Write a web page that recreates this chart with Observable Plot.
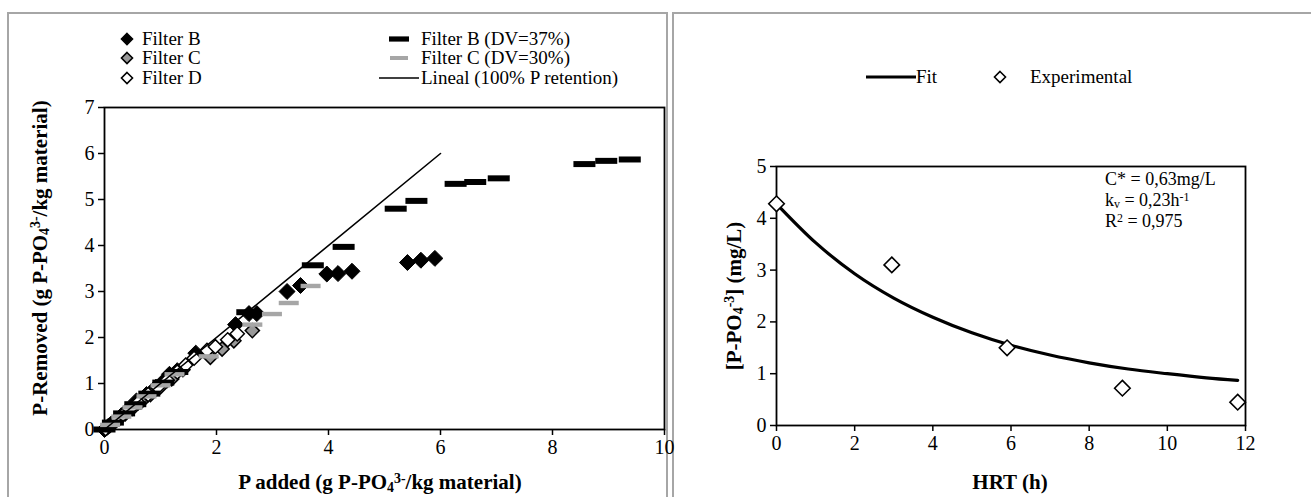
<!DOCTYPE html>
<html><head><meta charset="utf-8">
<script src="https://cdn.jsdelivr.net/npm/d3@7"></script>
<script src="https://cdn.jsdelivr.net/npm/@observablehq/plot@0.6"></script>
<style>
body{margin:0;background:#fff;font-family:"Liberation Serif",serif;}
#wrap{position:relative;width:1311px;height:497px;overflow:hidden;background:#fff;}
#wrap svg{font-family:"Liberation Serif",serif !important;font-size:20px !important;overflow:visible;}
#wrap svg text{font-family:"Liberation Serif",serif !important;}
.frame{position:absolute;border:2px solid #a6a6a6;box-sizing:border-box;}
.abs{position:absolute;white-space:nowrap;color:#000;line-height:1;font-size:19px;}
.leg{font-size:19px;}
.lab{font-size:21px;font-weight:bold;}
.ann{font-size:18px;}
sub,sup{font-size:0.66em;line-height:0;}
sub{vertical-align:-0.2em;} sup{vertical-align:0.45em;}
.plotbox{position:absolute;top:0;}
</style></head><body><div id="wrap"></div>
<script>
// ---------- Left panel data ----------
const xTicksL = [0, 2, 4, 6, 8, 10];
const yTicksL = [0, 1, 2, 3, 4, 5, 6, 7];
const filterBx = [0, 0.06, 0.12, 0.2, 0.3, 0.42, 0.57, 0.75, 0.92, 1.08, 1.16, 1.3, 1.63, 2.34, 2.58, 2.72, 3.26, 3.5, 3.97, 4.17, 4.42, 5.41, 5.65, 5.9];
const filterBy = [0, 0.06, 0.12, 0.2, 0.3, 0.43, 0.62, 0.76, 0.92, 1.08, 1.2, 1.28, 1.66, 2.28, 2.52, 2.52, 3.0, 3.13, 3.38, 3.39, 3.44, 3.63, 3.68, 3.72];
const filterCx = [0.04, 0.1, 0.18, 0.27, 0.37, 0.5, 0.65, 0.82, 1.0, 1.2, 1.4, 1.89, 2.1, 2.31, 2.64];
const filterCy = [0.03, 0.09, 0.16, 0.25, 0.34, 0.46, 0.6, 0.76, 0.93, 1.1, 1.3, 1.57, 1.75, 1.93, 2.15];
const filterDx = [0.02, 0.08, 0.15, 0.23, 0.33, 0.45, 0.6, 0.78, 0.95, 1.12, 1.3, 1.45, 1.6, 1.83, 1.98, 2.2, 2.37];
const filterDy = [0.02, 0.08, 0.14, 0.22, 0.32, 0.44, 0.58, 0.76, 0.92, 1.07, 1.25, 1.4, 1.55, 1.72, 1.8, 1.95, 2.08];
const filterBDVx = [0, 0.15, 0.35, 0.55, 0.8, 1.05, 1.3, 2.55, 3.72, 4.27, 5.2, 5.57, 6.27, 6.62, 7.04, 8.57, 8.96, 9.38];
const filterBDVy = [0, 0.15, 0.35, 0.55, 0.78, 1.02, 1.25, 2.55, 3.57, 3.97, 4.8, 4.97, 5.34, 5.38, 5.46, 5.77, 5.84, 5.87];
const filterCDVx = [0.1, 0.3, 0.5, 0.75, 1.0, 1.25, 1.86, 2.64, 2.99, 3.29, 3.68];
const filterCDVy = [0.1, 0.28, 0.48, 0.72, 0.96, 1.2, 1.59, 2.28, 2.51, 2.75, 3.12];
const linealX = [0, 6];
const linealY = [0, 6];

// ---------- Right panel data ----------
const xTicksR = [0, 2, 4, 6, 8, 10, 12];
const yTicksR = [0, 1, 2, 3, 4, 5];
const hrtExp = [0, 2.95, 5.9, 8.85, 11.8];
const concExp = [4.28, 3.1, 1.5, 0.72, 0.45];
const hrtFit = [0, 1, 2, 3, 4, 5, 6, 7, 8, 9, 10, 11, 11.8];
const concFit = [4.28, 3.53, 2.93, 2.46, 2.09, 1.79, 1.55, 1.36, 1.21, 1.09, 1.0, 0.92, 0.87];

const zip = (xs, ys) => xs.map((x, i) => ({x, y: ys[i]}));
const dashBlack = {draw(ctx) { ctx.rect(-11, -3, 22, 6); }};
const dashGray = {draw(ctx) { ctx.rect(-10, -2.2, 20, 4.4); }};
const font = {fontFamily: "Liberation Serif, serif", fontSize: "20px", color: "#000", background: "transparent", overflow: "visible"};

const wrap = document.getElementById("wrap");
function addEl(html, css, cls) {
  const d = document.createElement("div");
  d.className = cls || "abs";
  d.innerHTML = html;
  Object.assign(d.style, css);
  wrap.appendChild(d);
  return d;
}
// panel frames
addEl("", {left: "7px", top: "12px", width: "661px", height: "520px"}, "frame");
addEl("", {left: "672px", top: "12px", width: "660px", height: "520px"}, "frame");

// ---------- Left plot ----------
const left = Plot.plot({
  width: 668, height: 497,
  marginLeft: 104, marginRight: 4, marginTop: 107, marginBottom: 68,
  x: {domain: [0, 10]},
  y: {domain: [0, 7]},
  style: font,
  marks: [
    Plot.axisX({ticks: xTicksL, tickFormat: d => String(d), tickSize: 6, tickPadding: 4, label: null, strokeWidth: 1.5}),
    Plot.axisY({ticks: yTicksL, tickFormat: d => String(d), tickSize: 6, tickPadding: 4, label: null, strokeWidth: 1.5}),
    Plot.frame({stroke: "#000", strokeWidth: 1.8}),
    Plot.dot(zip(filterBx, filterBy), {x: "x", y: "y", symbol: "diamond2", r: 7.2, fill: "#000", stroke: "#000", strokeWidth: 1}),
    Plot.dot(zip(filterCx, filterCy), {x: "x", y: "y", symbol: "diamond2", r: 6.4, fill: "#999999", stroke: "#000", strokeWidth: 1.5}),
    Plot.dot(zip(filterDx, filterDy), {x: "x", y: "y", symbol: "diamond2", r: 6.4, fill: "#fff", stroke: "#000", strokeWidth: 1.5}),
    Plot.dot(zip(filterBDVx, filterBDVy), {x: "x", y: "y", symbol: dashBlack, fill: "#000", stroke: "none"}),
    Plot.dot(zip(filterCDVx, filterCDVy), {x: "x", y: "y", symbol: dashGray, fill: "#a6a6a6", stroke: "none"}),
    Plot.line(zip(linealX, linealY), {x: "x", y: "y", stroke: "#000", strokeWidth: 1.6})
  ]
});
const lb = document.createElement("div");
lb.className = "plotbox"; lb.style.left = "0px";
lb.appendChild(left); wrap.appendChild(lb);

// ---------- Right plot ----------
const right = Plot.plot({
  width: 631, height: 497,
  marginLeft: 96, marginRight: 66, marginTop: 166, marginBottom: 72,
  x: {domain: [0, 12]},
  y: {domain: [0, 5]},
  style: font,
  marks: [
    Plot.axisX({ticks: xTicksR, tickFormat: d => String(d), tickSize: 6, tickPadding: 4, label: null, strokeWidth: 1.5}),
    Plot.axisY({ticks: yTicksR, tickFormat: d => String(d), tickSize: 6, tickPadding: 4, label: null, strokeWidth: 1.5}),
    Plot.frame({stroke: "#000", strokeWidth: 1.8}),
    Plot.line(zip(hrtFit, concFit), {x: "x", y: "y", curve: "monotone-x", stroke: "#000", strokeWidth: 3.2}),
    Plot.dot(zip(hrtExp, concExp), {x: "x", y: "y", symbol: "diamond2", r: 7, fill: "#fff", stroke: "#000", strokeWidth: 1.6})
  ]
});
const rb = document.createElement("div");
rb.className = "plotbox"; rb.style.left = "680px";
rb.appendChild(right); wrap.appendChild(rb);

// ---------- Legends ----------
const diamondSvg = (fill) => `<svg width="14" height="14" style="position:absolute;left:-7px;top:-7px"><path d="M7,1.5L12.5,7L7,12.5L1.5,7Z" fill="${fill}" stroke="#000" stroke-width="1.6"/></svg>`;
const legendRows = [39, 58, 78];
const leftItems = [
  {label: "Filter B", fill: "#000"},
  {label: "Filter C", fill: "#999999"},
  {label: "Filter D", fill: "#fff"}
];
leftItems.forEach((it, i) => {
  addEl(diamondSvg(it.fill), {left: "127px", top: legendRows[i] + "px", width: "0", height: "0"});
  addEl(it.label, {left: "142px", top: (legendRows[i] - 10) + "px"}, "abs leg");
});
const rightItems = [
  {label: "Filter B (DV=37%)", mark: `<svg width="20" height="6" style="position:absolute;left:-10px;top:-3px"><rect x="0" y="0.4" width="20" height="5.2" fill="#000"/></svg>`},
  {label: "Filter C (DV=30%)", mark: `<svg width="18" height="4" style="position:absolute;left:-9px;top:-2px"><rect x="0" y="0" width="18" height="4" fill="#a6a6a6"/></svg>`},
  {label: "Lineal (100% P retention)", mark: `<svg width="40" height="4" style="position:absolute;left:-20px;top:-2px"><line x1="0" y1="2" x2="40" y2="2" stroke="#000" stroke-width="1.6"/></svg>`}
];
rightItems.forEach((it, i) => {
  addEl(it.mark, {left: "399px", top: legendRows[i] + "px", width: "0", height: "0"});
  addEl(it.label, {left: "421px", top: (legendRows[i] - 10) + "px"}, "abs leg");
});
// right legend
addEl(`<svg width="50" height="4" style="position:absolute;left:-25px;top:-2px"><line x1="0" y1="2" x2="50" y2="2" stroke="#000" stroke-width="3"/></svg>`, {left: "891px", top: "77px", width: "0", height: "0"});
addEl("Fit", {left: "916px", top: "67px"}, "abs leg");
addEl(diamondSvg("#fff"), {left: "1000px", top: "77px", width: "0", height: "0"});
addEl("Experimental", {left: "1030px", top: "67px"}, "abs leg");

// ---------- Axis titles ----------
addEl("P added (g P-PO<sub>4</sub><sup>3-</sup>/kg material)", {left: "380px", top: "472px", transform: "translateX(-50%)"}, "abs lab");
addEl("P-Removed (g P-PO<sub>4</sub><sup>3-</sup>/kg material)", {left: "40px", top: "258px", transform: "translate(-50%,-50%) rotate(-90deg)"}, "abs lab");
addEl("HRT (h)", {left: "1010px", top: "472px", transform: "translateX(-50%)"}, "abs lab");
addEl("[P-PO<sub>4</sub><sup>-3</sup>] (mg/L)", {left: "734px", top: "296px", transform: "translate(-50%,-50%) rotate(-90deg)"}, "abs lab");

// ---------- Annotation ----------
addEl("C* = 0,63mg/L", {left: "1105px", top: "170px"}, "abs ann");
addEl("k<sub>v</sub> = 0,23h<sup>-1</sup>", {left: "1105px", top: "191px"}, "abs ann");
addEl("R<sup>2</sup> = 0,975", {left: "1105px", top: "212px"}, "abs ann");
</script></body></html>
